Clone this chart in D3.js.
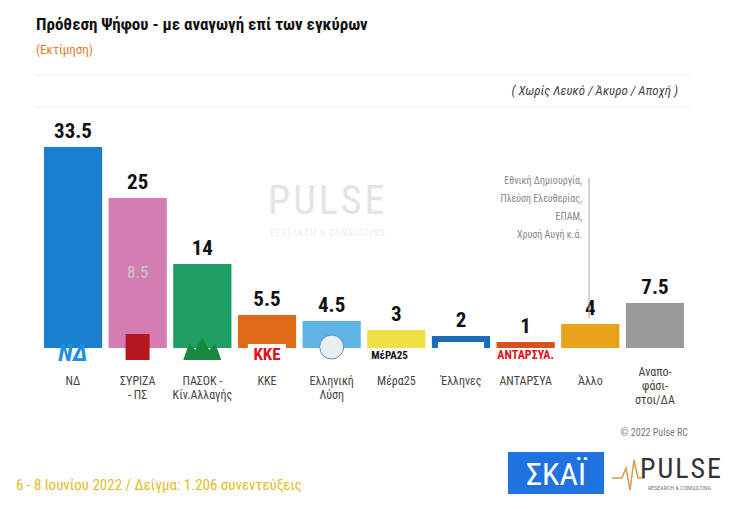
<!DOCTYPE html>
<html><head><meta charset="utf-8">
<script src="https://cdn.jsdelivr.net/npm/d3@7"></script>
<style>body{margin:0;background:#fff}text{font-family:"Liberation Sans Narrow","Roboto Condensed","Liberation Sans",sans-serif}</style>
</head><body>
<script>
// data
const parties = ['ΝΔ', 'ΣΥΡΙΖΑ\n- ΠΣ', 'ΠΑΣΟΚ -\nΚίν.Αλλαγής', 'ΚΚΕ', 'Ελληνική\nΛύση', 'Μέρα25', 'Έλληνες', 'ΑΝΤΑΡΣΥΑ', 'Άλλο', 'Αναπο-\nφάσι-\nστοι/ΔΑ'];
const values = [33.5, 25, 14, 5.5, 4.5, 3, 2, 1, 4, 7.5];
const labels = ['33.5', '25', '14', '5.5', '4.5', '3', '2', '1', '4', '7.5'];
const colors = ['#1b7fd0', '#d47db3', '#1f9e63', '#df6a17', '#5fb4e6', '#efe044', '#1a6db6', '#d4541e', '#e8a31b', '#9a9a9a'];

const width = 740, height = 509;
const baseY = 348;
const svg = d3.select('body').append('svg').attr('width', width).attr('height', height);

const x = d3.scaleBand().domain(parties).range([42, 686]).paddingInner(0.1).paddingOuter(0.03);
const y = d3.scaleLinear().domain([0, 33.5]).range([baseY, 147]);

// title
svg.append('text').attr('x', 36).attr('y', 30).style('font-size', '17px').style('font-weight', 'bold').attr('fill', '#111')
  .text('Πρόθεση Ψήφου - με αναγωγή επί των εγκύρων');
svg.append('text').attr('x', 36).attr('y', 54).style('font-size', '13px').attr('fill', '#e07b2c').text('(Εκτίμηση)');
svg.append('line').attr('x1', 35).attr('x2', 692).attr('y1', 75).attr('y2', 75).attr('stroke', '#eee');
svg.append('line').attr('x1', 35).attr('x2', 692).attr('y1', 107).attr('y2', 107).attr('stroke', '#eee');
svg.append('text').attr('x', 678).attr('y', 95).attr('text-anchor', 'end').style('font-size', '13px').style('font-style', 'italic').attr('fill', '#444')
  .text('( Χωρίς Λευκό / Άκυρο / Αποχή )');

// watermark
svg.append('text').attr('x', 268).attr('y', 214).style('font-size', '40px').attr('fill', '#e4e4e4').attr('letter-spacing', 3).text('PULSE');
svg.append('text').attr('x', 270).attr('y', 236).style('font-size', '9px').attr('fill', '#ececec').attr('letter-spacing', 1).text('RESEARCH & CONSULTING');

// bars
svg.selectAll('rect.bar').data(parties).enter().append('rect').attr('class', 'bar')
  .attr('x', d => x(d)).attr('width', x.bandwidth())
  .attr('y', (d, i) => y(values[i])).attr('height', (d, i) => baseY - y(values[i]))
  .attr('fill', (d, i) => colors[i]);

svg.selectAll('text.val').data(parties).enter().append('text').attr('class', 'val')
  .attr('x', d => x(d) + x.bandwidth() / 2).attr('y', (d, i) => y(values[i]) - 9)
  .attr('text-anchor', 'middle').style('font-size', '21px').style('font-weight', 'bold').attr('fill', '#111')
  .text((d, i) => labels[i]);

svg.append('text').attr('x', x(parties[1]) + x.bandwidth() / 2).attr('y', 278).attr('text-anchor', 'middle')
  .style('font-size', '17px').attr('fill', '#c8c8c8').text('8.5');

// simple logo stand-ins
const logo = svg.append('g');
logo.append('text').attr('x', x(parties[0]) + x.bandwidth() / 2).attr('y', 361).attr('text-anchor', 'middle')
  .style('font-size', '24px').style('font-weight', 'bold').style('font-style', 'italic').attr('fill', '#1b8fe0').text('ΝΔ');
logo.append('rect').attr('x', x(parties[1]) + 17).attr('y', 334).attr('width', 24).attr('height', 26).attr('fill', '#b5171f');
logo.append('path').attr('d', `M${x(parties[2]) + 10},360 L${x(parties[2]) + 16},343 L${x(parties[2]) + 22},350 L${x(parties[2]) + 29},338 L${x(parties[2]) + 36},350 L${x(parties[2]) + 42},343 L${x(parties[2]) + 48},360Z`).attr('fill', '#17883e');
logo.append('rect').attr('x', x(parties[3]) + 10).attr('y', 344).attr('width', 38).attr('height', 18).attr('fill', '#fff');
logo.append('text').attr('x', x(parties[3]) + x.bandwidth() / 2).attr('y', 360).attr('text-anchor', 'middle')
  .style('font-size', '17px').style('font-weight', 'bold').attr('fill', '#e3101a').text('ΚΚΕ');
logo.append('circle').attr('cx', x(parties[4]) + x.bandwidth() / 2).attr('cy', 347).attr('r', 12).attr('fill', '#e8eef2').attr('stroke', '#5b8fb5');
logo.append('text').attr('x', x(parties[5]) + 4).attr('y', 359).style('font-size', '11px').style('font-weight', 'bold').attr('fill', '#111').text('ΜέΡΑ25');
logo.append('rect').attr('x', x(parties[6]) + 6).attr('y', 342).attr('width', x.bandwidth() - 12).attr('height', 8).attr('fill', '#fff');
logo.append('text').attr('x', x(parties[7]) + x.bandwidth() / 2).attr('y', 359).attr('text-anchor', 'middle')
  .style('font-size', '12px').style('font-weight', 'bold').attr('fill', '#e3101a').text('ΑΝΤΑΡΣΥΑ.');

// category labels
parties.forEach((p, i) => {
  const t = svg.append('text').attr('x', x(p) + x.bandwidth() / 2).attr('y', 385).attr('text-anchor', 'middle')
    .style('font-size', '12px').attr('fill', '#444');
  const lines = p.split('\n');
  const y0 = lines.length === 3 ? 376 : 385;
  t.attr('y', y0);
  lines.forEach((l, k) => t.append('tspan').attr('x', x(p) + x.bandwidth() / 2).attr('dy', k ? 14 : 0).text(l));
});

// annotation for other
const ann = ['Εθνική Δημιουργία,', 'Πλεύση Ελευθερίας,', 'ΕΠΑΜ,', 'Χρυσή Αυγή  κ.ά.'];
ann.forEach((a, i) => svg.append('text').attr('x', 582).attr('y', 184 + i * 18).attr('text-anchor', 'end')
  .style('font-size', '10px').attr('fill', '#888').text(a));
svg.append('line').attr('x1', 589).attr('x2', 589).attr('y1', 178).attr('y2', 318).attr('stroke', '#aaa');

// footer
svg.append('text').attr('x', 688).attr('y', 436).attr('text-anchor', 'end').style('font-size', '10px').attr('fill', '#777').text('© 2022 Pulse RC');
svg.append('text').attr('x', 16).attr('y', 490).style('font-size', '15px').attr('fill', '#e3bc1e')
  .text('6 - 8  Ιουνίου  2022  /  Δείγμα:  1.206 συνεντεύξεις');
svg.append('rect').attr('x', 508).attr('y', 452).attr('width', 96).attr('height', 42).attr('fill', '#1e73e0');
svg.append('text').attr('x', 556).attr('y', 485).attr('text-anchor', 'middle').style('font-size', '32px').attr('fill', '#fff').text('ΣΚΑΪ');
svg.append('path').attr('d', 'M612,478 L622,478 L626,468 L630,490 L634,460 L638,478 L645,478').attr('fill', 'none').attr('stroke', '#d99a4a').attr('stroke-width', 1.5);
svg.append('text').attr('x', 640).attr('y', 478).style('font-size', '28px').attr('fill', '#333').attr('letter-spacing', 2).text('PULSE');
svg.append('text').attr('x', 648).attr('y', 490).style('font-size', '6px').attr('fill', '#777').text('RESEARCH & CONSULTING');
</script>
</body></html>
